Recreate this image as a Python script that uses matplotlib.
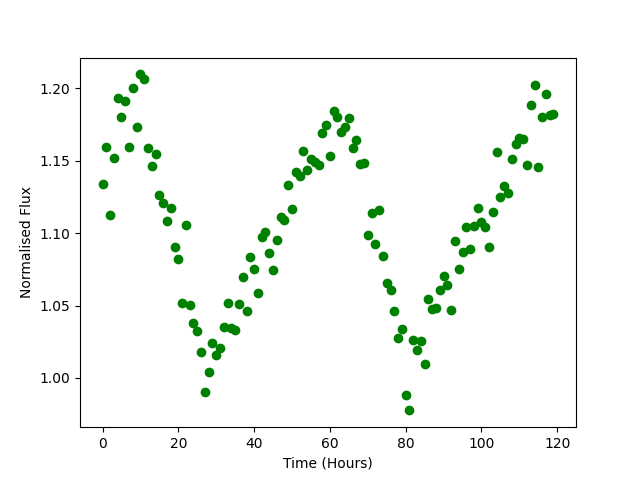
import matplotlib
matplotlib.use('Agg')
import matplotlib.pyplot as plt
import numpy as np

# time in hours, one reading per hour
time_hours = np.arange(0, 120)

flux = [
    1.1338, 1.1595, 1.1123, 1.1519, 1.1935, 1.1803, 1.1915, 1.1595, 1.2005, 1.1734,
    1.2097, 1.2067, 1.1588, 1.1463, 1.1547, 1.1262, 1.1206, 1.1081, 1.1174, 1.0908,
    1.0824, 1.0521, 1.1060, 1.0505, 1.0380, 1.0324, 1.0178, 0.9901, 1.0040, 1.0243,
    1.0158, 1.0208, 1.0349, 1.0521, 1.0342, 1.0331, 1.0512, 1.0699, 1.0465, 1.0838,
    1.0755, 1.0590, 1.0972, 1.1007, 1.0866, 1.0748, 1.0956, 1.1113, 1.1088, 1.1331,
    1.1167, 1.1424, 1.1398, 1.1565, 1.1438, 1.1512, 1.1495, 1.1474, 1.1692, 1.1750,
    1.1532, 1.1847, 1.1806, 1.1697, 1.1736, 1.1797, 1.1592, 1.1644, 1.1477, 1.1484,
    1.0991, 1.1137, 1.0922, 1.1158, 1.0840, 1.0655, 1.0606, 1.0463, 1.0276, 1.0338,
    0.9880, 0.9776, 1.0262, 1.0192, 1.0255, 1.0095, 1.0547, 1.0479, 1.0484, 1.0606,
    1.0706, 1.0644, 1.0470, 1.0944, 1.0755, 1.0873, 1.1042, 1.0894, 1.1049, 1.1174,
    1.1076, 1.1042, 1.0903, 1.1144, 1.1563, 1.1248, 1.1324, 1.1276, 1.1512, 1.1616,
    1.1660, 1.1648, 1.1470, 1.1887, 1.2026, 1.1460, 1.1803, 1.1963, 1.1817, 1.1824,
]

plt.figure(figsize=(6.4, 4.8), dpi=100)
plt.plot(time_hours, flux, 'o', color='green')
plt.xlabel('Time (Hours)')
plt.ylabel('Normalised Flux')
plt.savefig('out.png')
